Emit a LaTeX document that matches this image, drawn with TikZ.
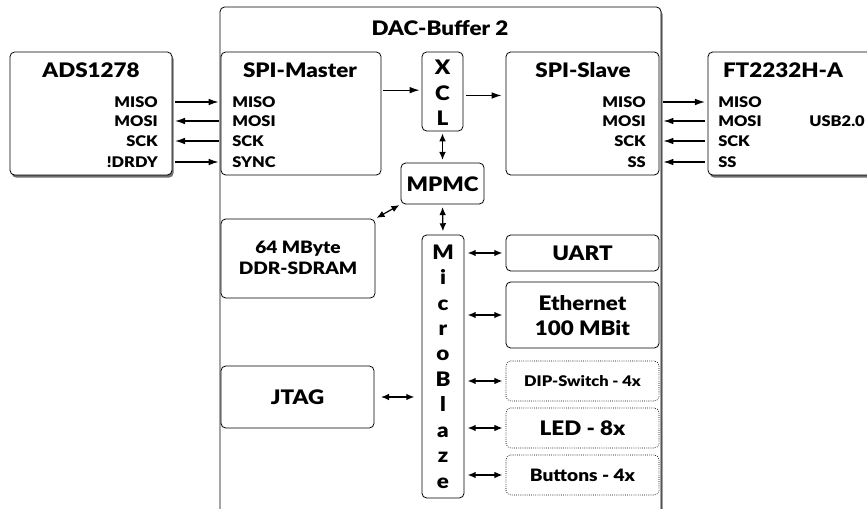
\documentclass[tikz,border=0pt]{standalone}
\usepackage{fontspec}
\setmainfont{Lato}[BoldFont={* Black}, BoldFeatures={FakeStretch=1.12}]
\usetikzlibrary{shadows, fit, arrows.meta, positioning}

\tikzset{
  box/.style={draw, line width=0.6pt, rounded corners=3.5pt, inner sep=0pt, fill=white},
  shbox/.style={box, drop shadow={shadow xshift=1.2pt, shadow yshift=-2pt, opacity=0.8, fill=black!70}},
  dotbox/.style={box, densely dotted, line width=0.5pt},
  bigtxt/.style={font=\fontsize{15}{19}\selectfont\bfseries, align=center},
  midtxt/.style={font=\fontsize{12.8}{15.5}\selectfont\bfseries, align=center},
  smalltxt/.style={font=\fontsize{11}{13}\selectfont\bfseries},
  sigtxt/.style={font=\fontsize{11}{12}\selectfont\bfseries, inner sep=0pt},
  arr/.style={-{Latex[length=7.5pt,width=5pt]}, line width=0.9pt},
  biarr/.style={{Latex[length=6pt,width=5pt]}-{Latex[length=6pt,width=5pt]}, line width=0.9pt},
}

\begin{document}
\begin{tikzpicture}[x=0.75pt, y=-0.75pt]
  \useasboundingbox (0,0) rectangle (867,509);

  % FPGA board
  \node[shbox, fit={(220,7) (661,515)}] (dac) {};
  \node[bigtxt] (dactitle) at (440,28) {DAC-Buffer 2};

  % ADC
  \node[shbox, fit={(10,52) (172,175)}] (ads) {};
  \node[bigtxt] (adstitle) at (91,70) {ADS1278};
  \node[sigtxt, anchor=east] (adsmiso) at (158,102) {MISO};
  \node[sigtxt, anchor=east] (adsmosi) at (158,121) {MOSI};
  \node[sigtxt, anchor=east] (adssck) at (158,141) {SCK};
  \node[sigtxt, anchor=east] (adsdrdy) at (158,162) {!DRDY};

  % SPI master
  \node[box, fit={(221,52) (381,175)}] (spim) {};
  \node[bigtxt] (spimtitle) at (300,70) {SPI-Master};
  \node[sigtxt, anchor=west] (spimmiso) at (232,102) {MISO};
  \node[sigtxt, anchor=west] (spimmosi) at (232,121) {MOSI};
  \node[sigtxt, anchor=west] (spimsck) at (232,141) {SCK};
  \node[sigtxt, anchor=west] (spimsync) at (232,162) {SYNC};

  % XCL
  \node[box, fit={(422,52) (463,131)}] (xcl) {};
  \node[bigtxt] (xcltxt) at (442.5,93) {X\\C\\L};

  % SPI slave
  \node[box, fit={(506,52) (659,175)}] (spis) {};
  \node[bigtxt] (spistitle) at (583,70) {SPI-Slave};
  \node[sigtxt, anchor=east] (spismiso) at (646,102) {MISO};
  \node[sigtxt, anchor=east] (spismosi) at (646,121) {MOSI};
  \node[sigtxt, anchor=east] (spissck) at (646,141) {SCK};
  \node[sigtxt, anchor=east] (spisss) at (646,162) {SS};

  % USB chip
  \node[shbox, fit={(708,52) (885,175)}] (ft) {};
  \node[bigtxt] (fttitle) at (783,70) {FT2232H-A};
  \node[sigtxt, anchor=west] (ftmiso) at (718,102) {MISO};
  \node[sigtxt, anchor=west] (ftmosi) at (718,121) {MOSI};
  \node[sigtxt, anchor=west] (ftsck) at (718,141) {SCK};
  \node[sigtxt, anchor=west] (ftss) at (718,162) {SS};
  \node[sigtxt] (ftusb) at (837,121) {USB2.0};

  % memory side
  \node[box, fit={(401,163) (484,204)}] (mpmc) {};
  \node[bigtxt] (mpmctxt) at (442.5,184) {MPMC};
  \node[box, fit={(221,219) (375,298)}] (ddr) {};
  \node[midtxt] (ddrtxt) at (298,258) {64 MByte\\DDR-SDRAM};

  % processor
  \node[box, fit={(422,235) (464,498)}] (mb) {};
  \node[bigtxt, font=\fontsize{15}{19.1}\selectfont\bfseries] (mbtxt) at (443,366.5) {M\\i\\c\\r\\o\\B\\l\\a\\z\\e};

  % peripherals
  \node[box, fit={(506,235) (659,271)}] (uart) {};
  \node[bigtxt] (uarttxt) at (582.5,253) {UART};
  \node[box, fit={(506,282) (659,348)}] (eth) {};
  \node[bigtxt] (ethtxt) at (582.5,315.5) {Ethernet\\100 MBit};
  \node[dotbox, fit={(506,361) (659,401)}] (dip) {};
  \node[smalltxt] (diptxt) at (582.5,381) {DIP-Switch - 4x};
  \node[dotbox, fit={(506,408) (659,448)}] (led) {};
  \node[bigtxt] (ledtxt) at (582.5,428) {LED - 8x};
  \node[dotbox, fit={(506,455) (659,495)}] (btn) {};
  \node[midtxt] (btntxt) at (582.5,475) {Buttons - 4x};
  \node[box, fit={(221,366) (374,428)}] (jtag) {};
  \node[bigtxt] (jtagtxt) at (297.5,397) {JTAG};

  % ADC <-> SPI master
  \draw[arr, shorten <=2pt, shorten >=1.5pt] (adsmiso -| ads.east) -- (adsmiso -| spim.west);
  \draw[arr, shorten <=1.5pt, shorten >=2pt] (adsmosi -| spim.west) -- (adsmosi -| ads.east);
  \draw[arr, shorten <=1.5pt, shorten >=2pt] (adssck -| spim.west) -- (adssck -| ads.east);
  \draw[arr, shorten <=2pt, shorten >=1.5pt] (adsdrdy -| ads.east) -- (adsdrdy -| spim.west);

  % SPI slave <-> USB chip
  \draw[arr, shorten <=1.5pt, shorten >=2pt] (spismiso -| dac.east) -- (spismiso -| ft.west);
  \draw[arr, shorten <=2pt, shorten >=1.5pt] (spismosi -| ft.west) -- (spismosi -| dac.east);
  \draw[arr, shorten <=2pt, shorten >=1.5pt] (spissck -| ft.west) -- (spissck -| dac.east);
  \draw[arr, shorten <=2pt, shorten >=1.5pt] (spisss -| ft.west) -- (spisss -| dac.east);

  % internal data path
  \draw[arr, shorten <=1pt, shorten >=1.5pt] ([yshift=1pt]spim.east |- xcl) -- ([yshift=1pt]xcl.west);
  \draw[arr, shorten <=2pt, shorten >=3pt] ([yshift=-3pt]xcl.east) -- ([yshift=-3pt]xcl.east -| spis.west);
  \draw[biarr, shorten <=1.5pt, shorten >=2pt] (xcl.south) -- (mpmc.north);
  \draw[biarr, shorten <=1pt, shorten >=1pt] (mpmc.south west) -- (ddr.north east);
  \draw[biarr, shorten <=2pt, shorten >=2.5pt] (mpmc.south) -- (mb.north);

  % processor bus
  \draw[biarr, shorten <=2.5pt, shorten >=2.5pt] (uart.west -| mb.east) -- (uart.west);
  \draw[biarr, shorten <=2.5pt, shorten >=2.5pt] (eth.west -| mb.east) -- (eth.west);
  \draw[biarr, shorten <=2.5pt, shorten >=2.5pt] (dip.west -| mb.east) -- (dip.west);
  \draw[biarr, shorten <=2.5pt, shorten >=2.5pt] (led.west -| mb.east) -- (led.west);
  \draw[biarr, shorten <=2.5pt, shorten >=2.5pt] (btn.west -| mb.east) -- (btn.west);
  \draw[biarr, shorten <=5pt, shorten >=5.5pt] (jtag.east) -- (jtag.east -| mb.west);
\end{tikzpicture}
\end{document}
